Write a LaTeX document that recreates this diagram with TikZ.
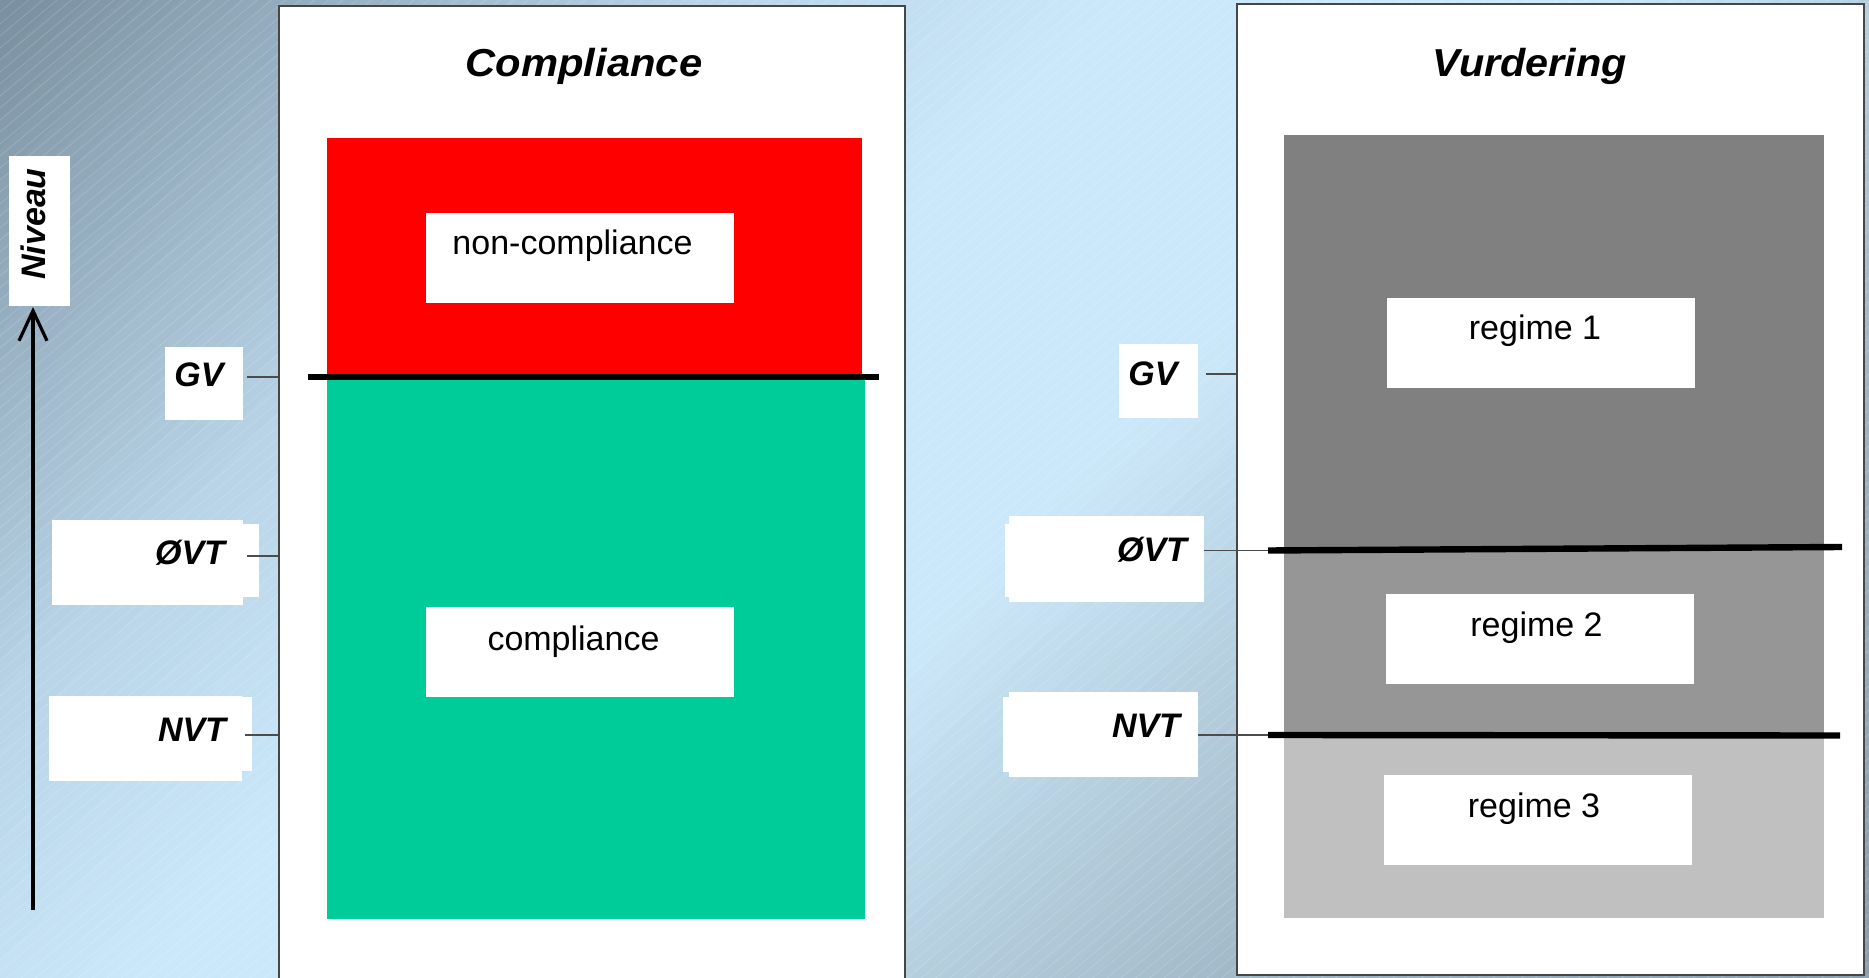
\documentclass[tikz,border=0pt]{standalone}
\usepackage{fontspec}
\setmainfont{Liberation Sans}
\usetikzlibrary{arrows.meta}
\definecolor{grn}{RGB}{0,204,153}
\definecolor{gA}{RGB}{128,128,128}
\definecolor{gB}{RGB}{150,150,150}
\definecolor{gC}{RGB}{192,192,192}
\definecolor{brd}{RGB}{70,70,70}
\newcommand\bgchan[8]{%
 \pgfmathtruncatemacro#1{\tm<700 ? #2+(\tm/700)*(#3-#2) : (\tm<1100 ? #3+((\tm-700)/400)*(#4-#3) : (\tm<1550 ? #4+((\tm-1100)/450)*(#5-#4) : (\tm<1950 ? #5+((\tm-1550)/400)*(#6-#5) : (\tm<2250 ? #6+((\tm-1950)/300)*(#7-#6) : #7+((\tm-2250)/600)*(#8-#7)))))}}
\tikzset{
 panel/.style={draw=brd, line width=0.75pt, fill=white, inner sep=0pt},
 zone/.style={inner sep=0pt, draw=none},
 wbox/.style={fill=white, inner sep=0pt, draw=none},
 lvl/.style={font=\fontsize{17}{20}\selectfont\bfseries\itshape, anchor=base, inner sep=0pt},
 boxtext/.style={font=\fontsize{17}{20}\selectfont, anchor=base, inner sep=0pt},
 ttl/.style={font=\fontsize{19.5}{23}\selectfont\bfseries\itshape, anchor=base, inner sep=0pt},
 limit/.style={line width=2.8pt, black},
 conn/.style={line width=0.75pt, black!70},
}
\begin{document}
\begin{tikzpicture}[x=0.5pt,y=-0.5pt]
\useasboundingbox (0,0) rectangle (1869,978);
% background
\begin{scope}
\clip (0,0) rectangle (1869,978);
\foreach \i in {0,...,95} {
  \pgfmathsetmacro\ta{\i*30}
  \pgfmathsetmacro\tb{\ta+31}
  \pgfmathsetmacro\tm{\ta+15}
  \bgchan\rr{122}{184}{203}{204}{178}{160}{140}
  \bgchan\gg{143}{212}{232}{233}{203}{182}{160}
  \bgchan\bb{160}{230}{250}{250}{219}{198}{175}
  \definecolor{bgc}{RGB}{\rr,\gg,\bb}
  \fill[bgc] (\ta,0) -- (\tb,0) -- (\tb-978,978) -- (\ta-978,978) -- cycle;
}
\foreach \c in {0,12,...,2560} {
  \draw[white, opacity=0.16, line width=0.4pt] (0,\c) -- (1869,\c-1570);
}
\end{scope}

% panels
\node[panel, minimum width=313pt, minimum height=489.5pt] (pl) at (592,495.5) {};
\node[panel, minimum width=313.5pt, minimum height=485.5pt] (pr) at (1550.5,489.5) {};

% titles
\node[ttl] (tl) at (584,77) {\scalebox{1.07}[1]{Compliance}};
\node[ttl] (tr) at (1529.5,77) {\scalebox{1.06}[1]{Vurdering}};

% left zones
\node[zone, fill=red, minimum width=267.5pt, minimum height=119.5pt] (red) at (594.5,257.5) {};
\node[zone, fill=grn, minimum width=269pt, minimum height=271pt] (green) at (596,648) {};
\coordinate (gvA) at (308,377);
\coordinate (gvB) at (879,377);
\draw[limit] (gvA) -- (gvB);
\node[wbox, minimum width=154pt, minimum height=45pt] (ncb) at (580,258) {};
\node[boxtext] (nct) at (572.5,255) {non-compliance};
\node[wbox, minimum width=154pt, minimum height=45pt] (cb) at (580,652) {};
\node[boxtext] (ct) at (573.5,650) {compliance};

% right zones
\node[zone, fill=gA, minimum width=270pt, minimum height=206.5pt] (z1) at (1554,341.5) {};
\node[zone, fill=gB, minimum width=270pt, minimum height=93pt] (z2) at (1554,641) {};
\node[zone, fill=gC, minimum width=270pt, minimum height=92pt] (z3) at (1554,826) {};
\coordinate (ovA) at (1268,550.5);
\coordinate (ovB) at (1842,547);
\coordinate (nvA) at (1268,735);
\coordinate (nvB) at (1840,735.5);
\draw[limit, line width=3.2pt] (ovA) -- (ovB);
\draw[limit, line width=3.2pt] (nvA) -- (nvB);
\node[wbox, minimum width=154pt, minimum height=45pt] (r1b) at (1541,343) {};
\node[boxtext] (r1t) at (1535,340) {regime 1};
\node[wbox, minimum width=154pt, minimum height=45pt] (r2b) at (1540,639) {};
\node[boxtext] (r2t) at (1536.5,636) {regime 2};
\node[wbox, minimum width=154pt, minimum height=45pt] (r3b) at (1538,820) {};
\node[boxtext] (r3t) at (1534,817) {regime 3};

% axis
\node[wbox, minimum width=30.5pt, minimum height=75pt] (nivb) at (39.5,231) {};
\node[lvl, rotate=90] (nivt) at (45,224) {Niveau};
\coordinate (arB) at (33,910);
\coordinate (arT) at (33,307);
\draw[line width=1.6pt, -{Straight Barb[length=15pt,width=14pt]}] (arB) -- (arT);

% left level labels
\node[wbox, minimum width=39pt, minimum height=36.5pt] (gvlb) at (204,383.5) {};
\node[lvl] (gvlt) at (199,387) {GV};
\fill[white] (243,524) rectangle (259,597);
\node[wbox, minimum width=95.5pt, minimum height=42.5pt] (ovlb) at (147.5,562.5) {};
\node[lvl] (ovlt) at (190,564) {ØVT};
\fill[white] (242,697) rectangle (252,771);
\node[wbox, minimum width=96.5pt, minimum height=42.5pt] (nvlb) at (145.5,738.5) {};
\node[lvl] (nvlt) at (192,741) {NVT};
\coordinate (cgl) at (247,377);
\coordinate (col) at (247,556);
\coordinate (cnl) at (245,735);
\draw[conn] (cgl) -- (cgl -| pl.west);
\draw[conn] (col) -- (col -| pl.west);
\draw[conn] (cnl) -- (cnl -| pl.west);

% right level labels
\node[wbox, minimum width=39.5pt, minimum height=37pt] (gvrb) at (1158.5,381) {};
\node[lvl] (gvrt) at (1153,386) {GV};
\fill[white] (1005,524) rectangle (1010,597);
\node[wbox, minimum width=97.5pt, minimum height=43pt] (ovrb) at (1106.5,559) {};
\node[lvl] (ovrt) at (1152,561) {ØVT};
\fill[white] (1003,697) rectangle (1010,772);
\node[wbox, minimum width=94.5pt, minimum height=42.5pt] (nvrb) at (1103.5,734.5) {};
\node[lvl] (nvrt) at (1146,737) {NVT};
\coordinate (cgr) at (1206,374);
\coordinate (cor) at (1204,550.5);
\coordinate (cnr) at (1198,735);
\draw[conn] (cgr) -- (cgr -| pr.west);
\draw[conn] (cor) -- (ovA);
\draw[conn] (cnr) -- (nvA);
\end{tikzpicture}
\end{document}
